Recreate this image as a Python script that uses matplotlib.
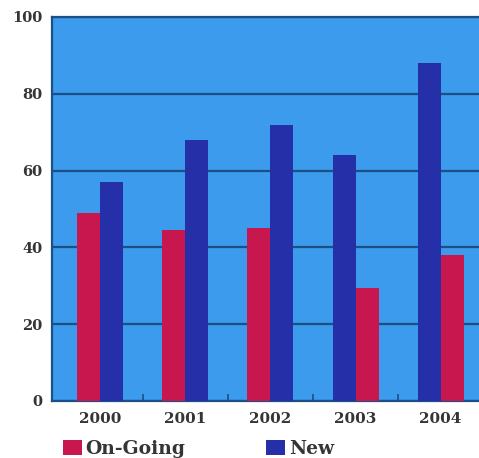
import matplotlib.pyplot as plt
import numpy as np

# values
years = ["2000", "2001", "2002", "2003", "2004"]
on_going = [49, 44.5, 45, 29.5, 38]
new = [57, 68, 72, 64, 88]
# which bar comes first in each group (the last two groups are swapped)
on_going_first = [True, True, True, False, False]
y_ticks = [0, 20, 40, 60, 80, 100]

red = "#c8174f"
blue = "#2530a8"
bg = "#3c9bec"
grid_col = "#1c4f86"
txt = "#353535"

fig = plt.figure(figsize=(4.79, 4.58), dpi=100)
ax = fig.add_axes([52 / 479, 1 - 401 / 458, 1 - 52 / 479, (401 - 17) / 458])
ax.set_facecolor(bg)

x = np.arange(len(years))
w = 0.27
first = np.array(on_going_first)
off_red = np.where(first, -w / 2, w / 2)
off_blue = -off_red

b1 = ax.bar(x + off_red, on_going, width=w, color=red, label="On-Going", zorder=3)
b2 = ax.bar(x + off_blue, new, width=w, color=blue, label="New", zorder=3)

ax.set_ylim(0, 100)
ax.set_xlim(-0.565, 4.45)
ax.set_yticks(y_ticks)
ax.set_xticks(x)
ax.set_xticklabels(years)
ax.set_xticks(x[:-1] + 0.5, minor=True)
ax.yaxis.grid(True, color=grid_col, linewidth=1.6, zorder=1)
ax.set_axisbelow(True)

for lab in ax.get_xticklabels() + ax.get_yticklabels():
    lab.set_fontfamily("DejaVu Serif")
    lab.set_fontweight("bold")
    lab.set_color(txt)
ax.tick_params(axis="x", which="major", length=0, pad=8, labelsize=11)
ax.tick_params(axis="y", length=0, pad=7, labelsize=10.5)
ax.tick_params(axis="x", which="minor", direction="in", length=5,
               width=1.2, color=grid_col)

for s in ["top", "bottom", "left"]:
    ax.spines[s].set_color(grid_col)
    ax.spines[s].set_linewidth(1.6)
ax.spines["right"].set_visible(False)

fig.legend(handles=[b1, b2], labels=["On-Going", "New"], loc="center left",
           bbox_to_anchor=(63 / 479, 1 - 449 / 458), ncol=2, frameon=False,
           borderpad=0, borderaxespad=0, handlelength=1.0, handleheight=0.9,
           handletextpad=0.2, columnspacing=4.3,
           prop=dict(family="DejaVu Serif", weight="bold", size=13.5),
           labelcolor=txt)

fig.savefig("out.png", dpi=100)
